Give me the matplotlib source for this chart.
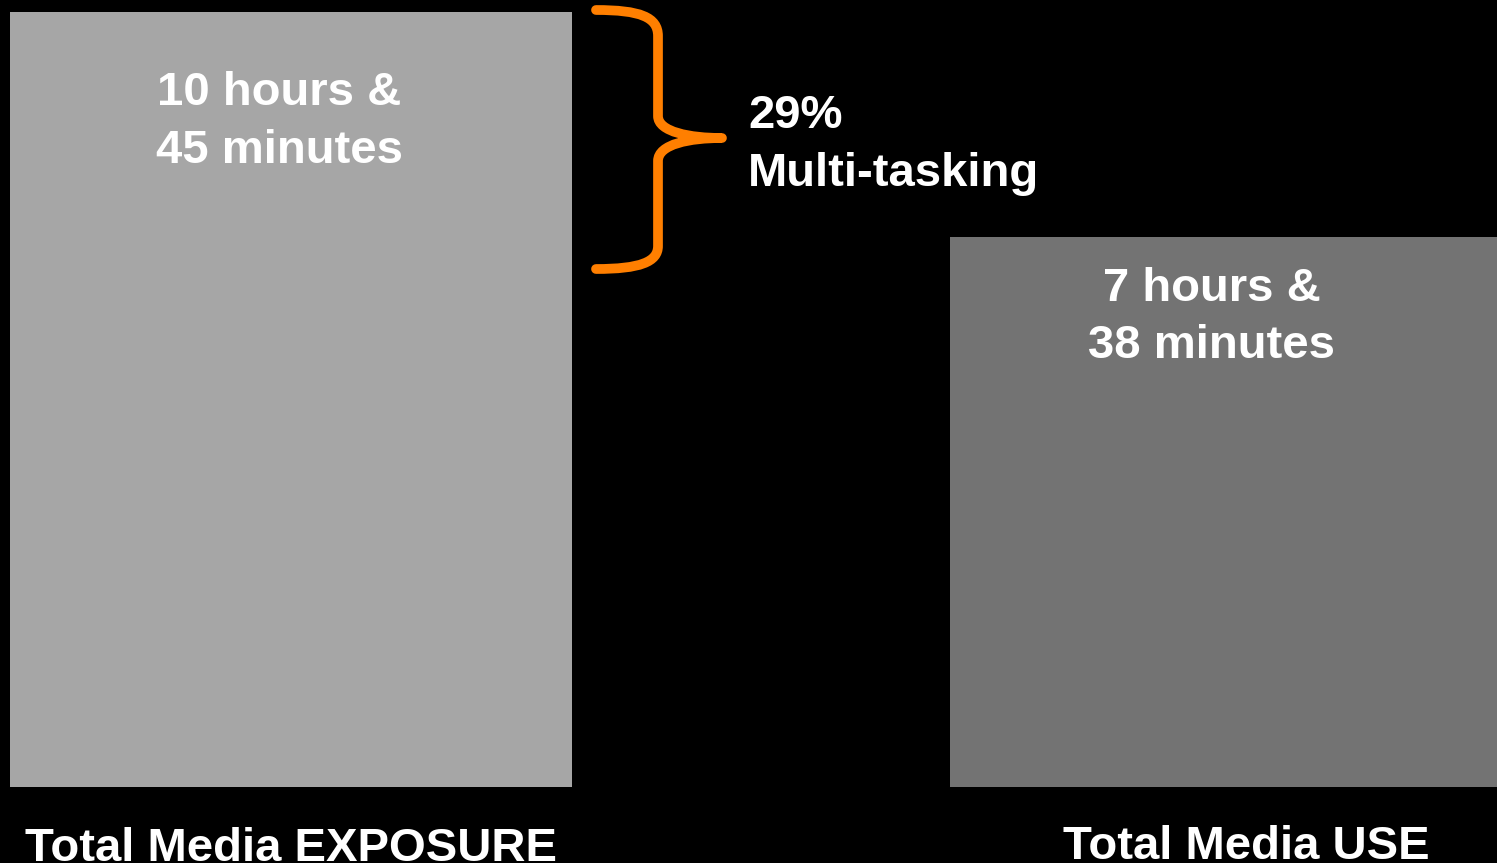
import matplotlib
matplotlib.use("Agg")
import matplotlib.pyplot as plt
from matplotlib.path import Path
from matplotlib.patches import PathPatch

# Daily media time, in minutes
categories = ["Total Media EXPOSURE", "Total Media USE"]
minutes = [645, 458]
value_labels = ["10 hours &\n45 minutes", "7 hours &\n38 minutes"]
multitask_label = "29%\nMulti-tasking"

bar_colors = ["#A6A6A6", "#737373"]
accent = "#FF7F00"
font = ["Liberation Sans", "DejaVu Sans"]

W, H, DPI = 1497, 863, 100
fig = plt.figure(figsize=(W / DPI, H / DPI), dpi=DPI, facecolor="black")

# Main axes spans the whole canvas; x in canvas units, y in minutes
px_per_min = 1.2016
baseline_px = 76  # distance of the zero line from the bottom edge
ax = fig.add_axes([0, 0, 1, 1])
ax.set_facecolor("black")
ax.set_xlim(0, W)
ax.set_ylim(-baseline_px / px_per_min, (H - baseline_px) / px_per_min)
ax.axis("off")

lefts = [10, 950]
widths = [562, 547]
ax.bar(lefts, minutes, width=widths, align="edge", color=bar_colors,
       edgecolor="none", zorder=2)

# value labels inside the bars (offset below each bar top, in pixels)
label_drop = [110, 81]
for left, w, v, d, lab in zip(lefts, widths, minutes, label_drop, value_labels):
    ax.text(left + w / 2 - 12, v - d / px_per_min, lab, ha="center",
            va="center", color="white", fontsize=34, fontweight="bold",
            family=font, linespacing=1.4, zorder=3)

# category labels below the bars, partly running off the bottom edge
cat_x = [291, 1246]
cat_base = [-74 / px_per_min, -72 / px_per_min]
for x, y, lab in zip(cat_x, cat_base, categories):
    ax.text(x, y, lab, ha="center", va="baseline", color="white",
            fontsize=34, fontweight="bold", family=font, zorder=3)

# overlay in canvas pixels (y downward) for the brace annotation
ov = fig.add_axes([0, 0, 1, 1])
ov.set_xlim(0, W)
ov.set_ylim(H, 0)
ov.axis("off")
ov.patch.set_alpha(0)

verts = [
    (596, 10), (640, 10), (658, 17), (658, 36),
    (658, 116),
    (658, 132), (690, 138), (722, 138),
    (690, 138), (658, 144), (658, 161),
    (658, 246),
    (658, 262), (640, 269), (596, 269),
]
codes = [Path.MOVETO, Path.CURVE4, Path.CURVE4, Path.CURVE4,
         Path.LINETO,
         Path.CURVE4, Path.CURVE4, Path.CURVE4,
         Path.CURVE4, Path.CURVE4, Path.CURVE4,
         Path.LINETO,
         Path.CURVE4, Path.CURVE4, Path.CURVE4]
brace = PathPatch(Path(verts, codes), facecolor="none", edgecolor=accent,
                  lw=7, capstyle="round", joinstyle="round")
ov.add_patch(brace)

ov.text(748, 145, multitask_label, ha="left", va="center", color="white",
        fontsize=34, fontweight="bold", family=font, linespacing=1.4)

fig.savefig("out.png", dpi=DPI, facecolor="black")
